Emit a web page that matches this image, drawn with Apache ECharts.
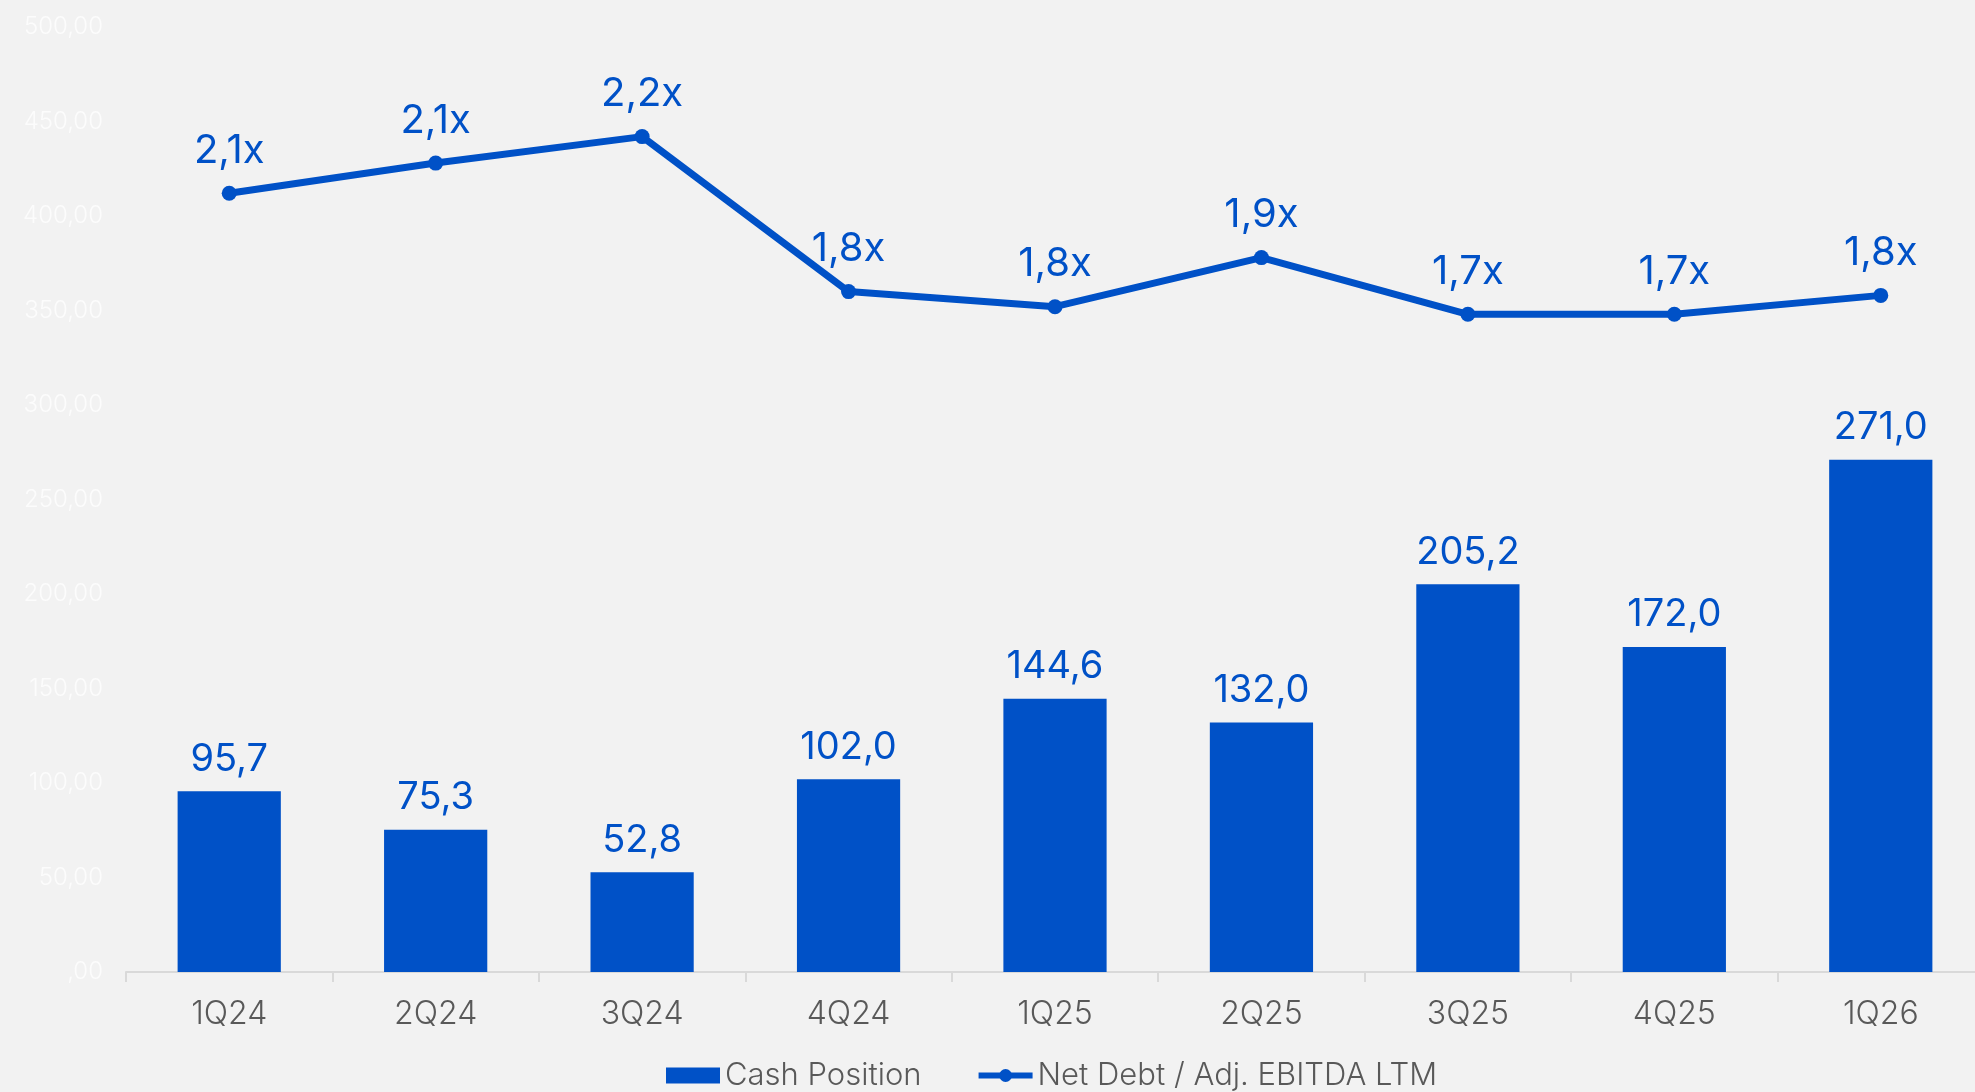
<!DOCTYPE html>
<html>
<head>
<meta charset="utf-8">
<script src="https://cdn.jsdelivr.net/npm/echarts@6/dist/echarts.min.js"></script>
<style>
  html, body { margin: 0; padding: 0; background: #f2f2f2; }
  #chart { width: 1975px; height: 1092px; }
</style>
</head>
<body>
<div id="chart"></div>
<script>
// Quarterly cash position (bars) and leverage ratio (line)
const quarters = ['1Q24', '2Q24', '3Q24', '4Q24', '1Q25', '2Q25', '3Q25', '4Q25', '1Q26'];
const cashPosition = [95.7, 75.3, 52.8, 102.0, 144.6, 132.0, 205.2, 172.0, 271.0];
const netDebtToEbitda = [2.06, 2.14, 2.21, 1.80, 1.76, 1.89, 1.74, 1.74, 1.79];
const cashTicks = [0, 50, 100, 150, 200, 250, 300, 350, 400, 450, 500];

const BLUE = '#0051C7';
const FONT = 'Inter, "Noto Sans", sans-serif';

const comma = (v, d) => v.toFixed(d).replace('.', ',');

const chart = echarts.init(document.getElementById('chart'));
chart.setOption({
  backgroundColor: '#f2f2f2',
  animation: false,
  textStyle: { fontFamily: FONT },
  // the category band runs slightly past the right edge of the canvas
  grid: { left: 126, width: 1858, top: 27, bottom: 120, containLabel: false, outerBoundsMode: 'none' },
  legend: {
    left: 661,
    top: 1055,
    itemWidth: 54,
    itemHeight: 16,
    itemGap: 54,
    lineStyle: { width: 6 },
    textStyle: { color: '#595959', fontSize: 31, fontFamily: FONT, fontWeight: 300 },
    data: [
      { name: 'Cash Position', icon: 'rect' },
      { name: 'Net Debt / Adj. EBITDA LTM' }
    ]
  },
  xAxis: {
    type: 'category',
    data: quarters,
    boundaryGap: true,
    axisLine: { show: true, lineStyle: { color: '#d9d9d9', width: 2 } },
    axisTick: { show: true, length: 10, lineStyle: { color: '#d9d9d9', width: 2 } },
    axisLabel: { color: '#595959', fontSize: 32, fontWeight: 300, margin: 26, fontFamily: FONT }
  },
  yAxis: [
    {
      type: 'value',
      min: cashTicks[0],
      max: cashTicks[cashTicks.length - 1],
      interval: cashTicks[1] - cashTicks[0],
      splitLine: { show: false },
      axisLine: { show: false },
      axisTick: { show: false },
      axisLabel: {
        color: '#fcfcfc',
        fontSize: 24,
        fontWeight: 300,
        margin: 23,
        fontFamily: FONT,
        formatter: v => (v === 0 ? ',00' : comma(v, 2))
      }
    },
    {
      type: 'value',
      min: 0,
      max: 2.5,
      show: false,
      splitLine: { show: false }
    }
  ],
  series: [
    {
      name: 'Cash Position',
      type: 'bar',
      data: cashPosition,
      barWidth: '50%',
      itemStyle: { color: BLUE },
      label: {
        show: true,
        position: 'top',
        distance: 13,
        color: BLUE,
        fontSize: 38,
        fontFamily: FONT,
        fontWeight: 400,
        formatter: p => comma(p.value, 1)
      }
    },
    {
      name: 'Net Debt / Adj. EBITDA LTM',
      type: 'line',
      yAxisIndex: 1,
      data: netDebtToEbitda,
      z: 5,
      symbol: 'circle',
      symbolSize: 15,
      lineStyle: { color: BLUE, width: 7 },
      itemStyle: { color: BLUE },
      label: {
        show: true,
        position: 'top',
        distance: 15,
        color: BLUE,
        fontSize: 40,
        fontFamily: FONT,
        fontWeight: 400,
        formatter: p => comma(p.value, 1) + 'x'
      }
    }
  ]
});
</script>
</body>
</html>
